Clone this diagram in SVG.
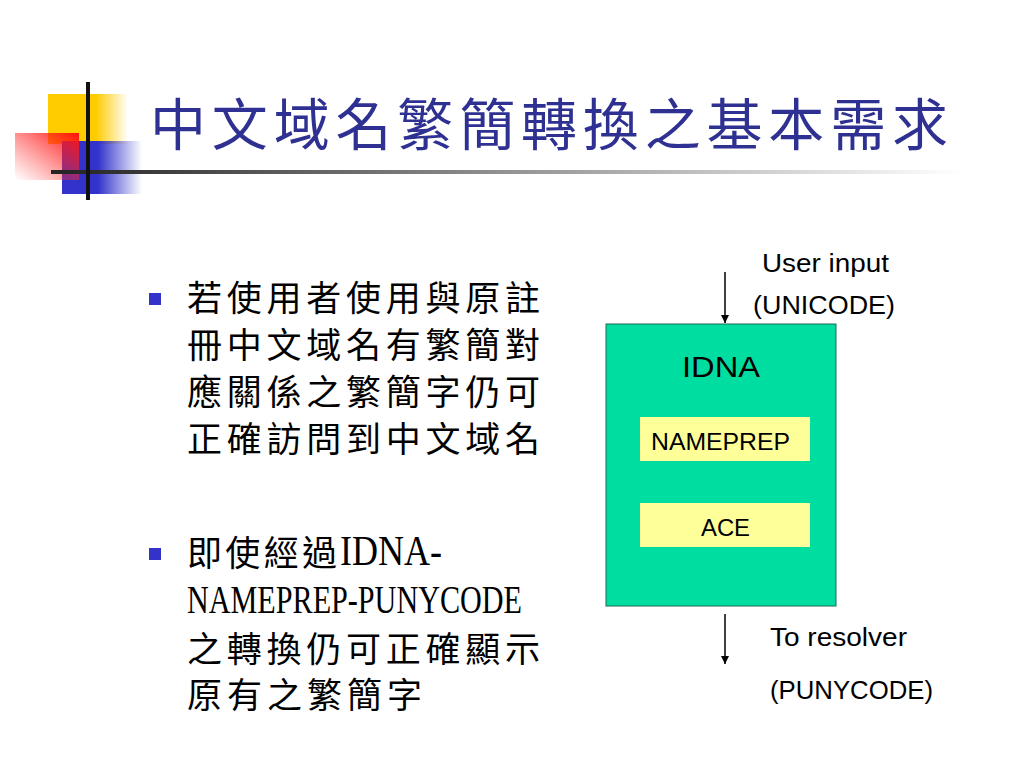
<svg xmlns="http://www.w3.org/2000/svg" width="1024" height="768" viewBox="0 0 1024 768">
<defs>
<linearGradient id="gy" x1="0" y1="0" x2="1" y2="0"><stop offset="0.6" stop-color="#FFCC00"/><stop offset="1" stop-color="#FFCC00" stop-opacity="0"/></linearGradient>
<linearGradient id="gb" x1="0" y1="0" x2="1" y2="0"><stop offset="0.45" stop-color="#3333CC"/><stop offset="1" stop-color="#3333CC" stop-opacity="0"/></linearGradient>
<linearGradient id="gr" x1="1" y1="0" x2="0" y2="1"><stop offset="0" stop-color="#FF1111"/><stop offset="1" stop-color="#FF3333" stop-opacity="0"/></linearGradient>
<linearGradient id="gl" x1="0" y1="0" x2="1" y2="0"><stop offset="0" stop-color="#222"/><stop offset="0.3" stop-color="#666"/><stop offset="1" stop-color="#fff"/></linearGradient>
<marker id="ah" viewBox="0 0 10 10" refX="10" refY="5" markerWidth="8" markerHeight="8" markerUnits="userSpaceOnUse" orient="auto"><path d="M0,0 L10,5 L0,10 z" fill="#000"/></marker>
<style>
.cjk{font-family:"Noto Sans CJK TC","Noto Sans CJK SC",sans-serif;fill:#000}
.lat{font-family:"Liberation Sans","DejaVu Sans",sans-serif;fill:#000}
.ser{font-family:"Liberation Serif",serif;fill:#000}
.bul{fill:#3333CC}
.conn{stroke:#000;stroke-width:1.5;fill:none;marker-end:url(#ah)}
</style>
</defs>
<rect width="1024" height="768" fill="#fff"/>
<g id="logo">
<rect x="48" y="94" width="80" height="50" fill="url(#gy)"/>
<rect x="62" y="141" width="80" height="53" fill="url(#gb)"/>
<rect x="15" y="133" width="64" height="47" fill="url(#gr)"/>
<rect x="51" y="170" width="910" height="4" fill="url(#gl)"/>
<rect x="86" y="82" width="4" height="118" fill="#111"/>
</g>
<text class="cjk" x="150" y="145" font-size="56" style="fill:#2E3192" textLength="798" lengthAdjust="spacing">中文域名繁簡轉換之基本需求</text>
<g id="bullets">
<rect class="bul" x="149" y="293" width="12" height="12"/>
<text class="cjk" x="187" y="311" font-size="35" textLength="353" lengthAdjust="spacing">若使用者使用與原註</text>
<text class="cjk" x="187" y="358" font-size="35" textLength="353" lengthAdjust="spacing">冊中文域名有繁簡對</text>
<text class="cjk" x="187" y="405" font-size="35" textLength="353" lengthAdjust="spacing">應關係之繁簡字仍可</text>
<text class="cjk" x="187" y="452" font-size="35" textLength="353" lengthAdjust="spacing">正確訪問到中文域名</text>
<rect class="bul" x="149" y="548" width="12" height="12"/>
<text class="cjk" x="187" y="566" font-size="35" textLength="150" lengthAdjust="spacing">即使經過</text>
<text class="ser" x="340" y="565" font-size="42" textLength="102" lengthAdjust="spacingAndGlyphs">IDNA-</text>
<text class="ser" x="187" y="613" font-size="41" textLength="335" lengthAdjust="spacingAndGlyphs">NAMEPREP-PUNYCODE</text>
<text class="cjk" x="187" y="662" font-size="35" textLength="353" lengthAdjust="spacing">之轉換仍可正確顯示</text>
<text class="cjk" x="187" y="708" font-size="35" textLength="235" lengthAdjust="spacing">原有之繁簡字</text>
</g>
<g id="idna">
<rect x="606" y="324" width="230" height="282" fill="#00DDA0" stroke="#1A6B55" stroke-width="1"/>
<text class="lat" x="682" y="377" font-size="30" textLength="78" lengthAdjust="spacingAndGlyphs">IDNA</text>
</g>
<g id="nameprep">
<rect x="640" y="417" width="170" height="44" fill="#FFFF99"/>
<text class="lat" x="651" y="450" font-size="24" textLength="139" lengthAdjust="spacingAndGlyphs">NAMEPREP</text>
</g>
<g id="ace">
<rect x="640" y="503" width="170" height="44" fill="#FFFF99"/>
<text class="lat" x="701" y="536" font-size="24" textLength="49" lengthAdjust="spacingAndGlyphs">ACE</text>
</g>
<g id="labels">
<text class="lat" x="762" y="272" font-size="25" textLength="127" lengthAdjust="spacingAndGlyphs">User input</text>
<text class="lat" x="753" y="314" font-size="25" textLength="142" lengthAdjust="spacingAndGlyphs">(UNICODE)</text>
<text class="lat" x="770" y="646" font-size="25" textLength="137" lengthAdjust="spacingAndGlyphs">To resolver</text>
<text class="lat" x="770" y="699" font-size="25" textLength="163" lengthAdjust="spacingAndGlyphs">(PUNYCODE)</text>
</g>
<g id="connectors">
<line class="conn" x1="725" y1="272" x2="725" y2="323"/>
<line class="conn" x1="725" y1="614" x2="725" y2="664"/>
</g>
</svg>
